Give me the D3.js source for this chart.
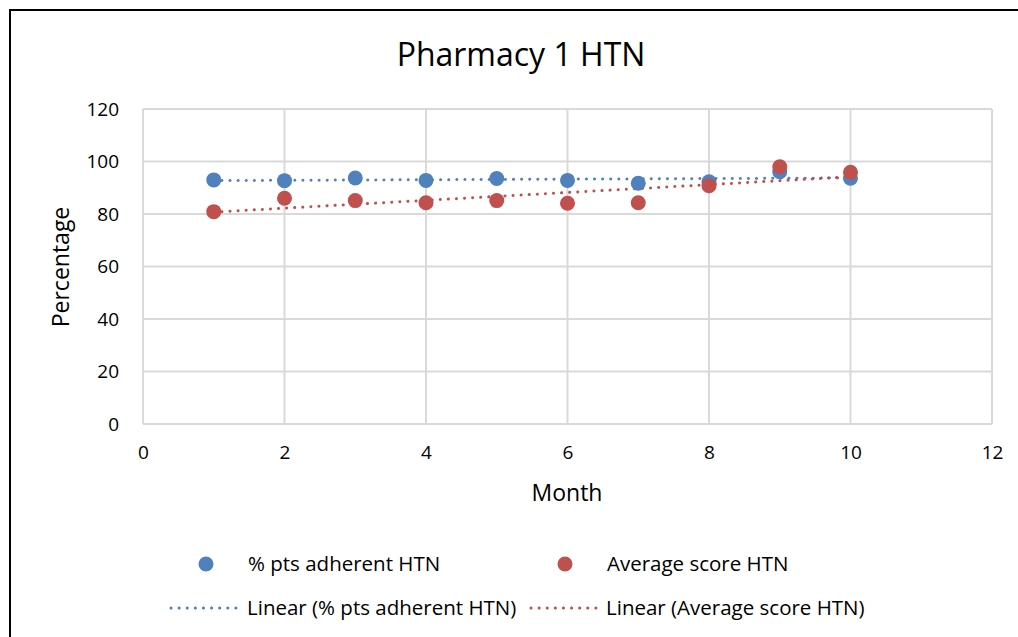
<!DOCTYPE html>
<html><head><meta charset="utf-8">
<script src="https://cdn.jsdelivr.net/npm/d3@7"></script>
<style>body{margin:0;background:#fff;} svg{display:block;} text{font-family:"Open Sans","Liberation Sans",sans-serif;fill:#000;}</style>
</head><body>
<svg id="c" width="1018" height="637"></svg>
<script>
const months = [1,2,3,4,5,6,7,8,9,10];
const adherent = [93.0, 92.7, 93.7, 92.8, 93.5, 92.8, 91.7, 92.3, 96.1, 93.6];
const avgScore = [80.9, 86.0, 85.1, 84.3, 85.1, 84.1, 84.3, 90.8, 98.0, 95.9];
const xTicks = [0,2,4,6,8,10,12];
const yTicks = [0,20,40,60,80,100,120];
const seriesNames = ["% pts adherent HTN", "Average score HTN"];
const trendNames = ["Linear (% pts adherent HTN)", "Linear (Average score HTN)"];
const colors = ["#4F81BD", "#C0504D"];

const svg = d3.select("#c");
svg.append("rect").attr("x",10).attr("y",10).attr("width",1030).attr("height",660)
  .attr("fill","#fff").attr("stroke","#000").attr("stroke-width",2);

const x = d3.scaleLinear().domain([0,12]).range([143,992]);
const y = d3.scaleLinear().domain([0,120]).range([424,109]);

// gridlines
svg.append("g").selectAll("line.v").data(xTicks).join("line")
  .attr("x1",d=>x(d)).attr("x2",d=>x(d)).attr("y1",y(0)).attr("y2",y(120))
  .attr("stroke","#d9d9d9").attr("stroke-width",2);
svg.append("g").selectAll("line.h").data(yTicks).join("line")
  .attr("x1",x(0)).attr("x2",x(12)).attr("y1",d=>y(d)).attr("y2",d=>y(d))
  .attr("stroke","#d9d9d9").attr("stroke-width",2);

// axes labels via d3 axes
const xa = svg.append("g").attr("transform",`translate(0,${y(0)})`)
  .call(d3.axisBottom(x).tickValues(xTicks).tickSize(0).tickPadding(22));
xa.select(".domain").remove();
xa.selectAll("text").attr("font-size",19).attr("font-family","Open Sans, sans-serif").attr("fill","#000");
const ya = svg.append("g").attr("transform",`translate(${x(0)},0)`)
  .call(d3.axisLeft(y).tickValues(yTicks).tickSize(0).tickPadding(24));
ya.select(".domain").remove();
ya.selectAll("text").attr("font-size",19).attr("font-family","Open Sans, sans-serif").attr("fill","#000");

// trendlines
function linreg(xs, ys){
  const n=xs.length, mx=d3.mean(xs), my=d3.mean(ys);
  let sxy=0,sxx=0; for(let i=0;i<n;i++){sxy+=(xs[i]-mx)*(ys[i]-my); sxx+=(xs[i]-mx)**2;}
  const b=sxy/sxx; return t=>my+b*(t-mx);
}
const series=[adherent, avgScore];
series.forEach((s,i)=>{
  const f=linreg(months,s);
  const x0=d3.min(months), x1=d3.max(months);
  svg.append("line").attr("x1",x(x0)).attr("x2",x(x1)).attr("y1",y(f(x0))).attr("y2",y(f(x1)))
    .attr("stroke",colors[i]).attr("stroke-width",3).attr("stroke-dasharray","0.1 8")
    .attr("stroke-linecap","round");
});
// points
series.forEach((s,i)=>{
  svg.append("g").selectAll("circle").data(months).join("circle")
    .attr("cx",d=>x(d)).attr("cy",(d,j)=>y(s[j])).attr("r",7.5).attr("fill",colors[i]);
});

// title and axis titles
svg.append("text").attr("x",521).attr("y",66).attr("text-anchor","middle").attr("font-size",32).text("Pharmacy 1 HTN");
svg.append("text").attr("x",567).attr("y",501).attr("text-anchor","middle").attr("font-size",23).text("Month");
svg.append("text").attr("transform","translate(69,267) rotate(-90)").attr("text-anchor","middle").attr("font-size",23).text("Percentage");

// legend
const lg = svg.append("g");
const lx = [206, 565], tx = [248, 607];
[0,1].forEach(i=>{
  lg.append("circle").attr("cx",lx[i]).attr("cy",564).attr("r",7.5).attr("fill",colors[i]);
  lg.append("text").attr("x",tx[i]).attr("y",571).attr("font-size",20.5).text(seriesNames[i]);
});
const ll = [[171,240],[531,601]], ltx=[247,606];
[0,1].forEach(i=>{
  lg.append("line").attr("x1",ll[i][0]).attr("x2",ll[i][1]).attr("y1",608).attr("y2",608)
    .attr("stroke",colors[i]).attr("stroke-width",3).attr("stroke-dasharray","0.1 8").attr("stroke-linecap","round");
  lg.append("text").attr("x",ltx[i]).attr("y",615).attr("font-size",20.5).text(trendNames[i]);
});
</script>
</body></html>
